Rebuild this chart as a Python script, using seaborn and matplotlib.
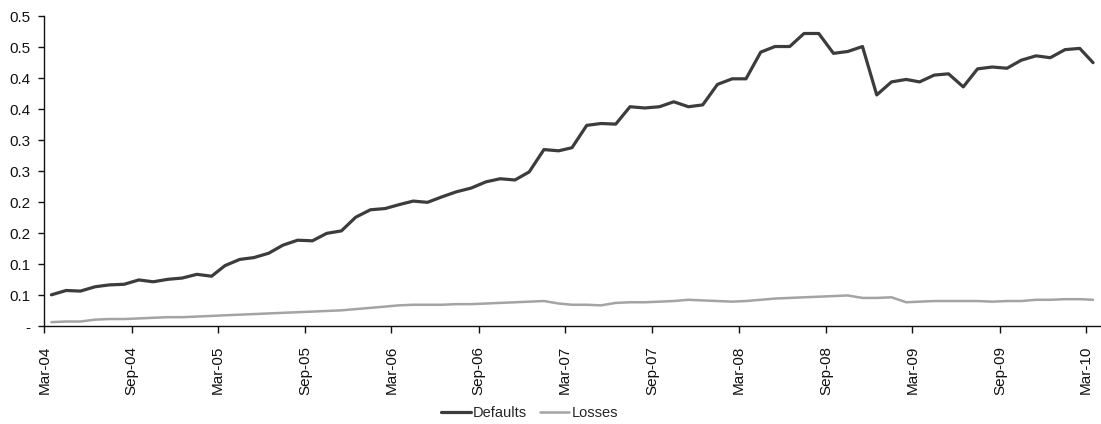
import numpy as np
import pandas as pd
import matplotlib
matplotlib.use("Agg")
import matplotlib.pyplot as plt
import seaborn as sns

# ---- data (monthly, Mar-04 .. Mar-10) ----
start_month = "2004-03-01"
defaults = [0.051, 0.058, 0.057, 0.064, 0.067, 0.068, 0.075, 0.072, 0.076, 0.078,
            0.084, 0.081, 0.098, 0.108, 0.111, 0.118, 0.131, 0.139, 0.138, 0.150,
            0.154, 0.176, 0.188, 0.190, 0.196, 0.202, 0.200, 0.209, 0.217, 0.223,
            0.233, 0.238, 0.236, 0.249, 0.285, 0.283, 0.288, 0.324, 0.327, 0.326,
            0.354, 0.352, 0.354, 0.362, 0.354, 0.357, 0.390, 0.399, 0.399, 0.442,
            0.451, 0.451, 0.472, 0.472, 0.440, 0.443, 0.451, 0.373, 0.394, 0.398,
            0.394, 0.405, 0.407, 0.386, 0.415, 0.418, 0.416, 0.429, 0.436, 0.433,
            0.446, 0.448, 0.425]
losses = [0.007, 0.008, 0.008, 0.011, 0.012, 0.012, 0.013, 0.014, 0.015, 0.015,
          0.016, 0.017, 0.018, 0.019, 0.020, 0.021, 0.022, 0.023, 0.024, 0.025,
          0.026, 0.028, 0.030, 0.032, 0.034, 0.035, 0.035, 0.035, 0.036, 0.036,
          0.037, 0.038, 0.039, 0.040, 0.041, 0.037, 0.035, 0.035, 0.034, 0.038,
          0.039, 0.039, 0.040, 0.041, 0.043, 0.042, 0.041, 0.040, 0.041, 0.043,
          0.045, 0.046, 0.047, 0.048, 0.049, 0.050, 0.046, 0.046, 0.047, 0.039,
          0.040, 0.041, 0.041, 0.041, 0.041, 0.040, 0.041, 0.041, 0.043, 0.043,
          0.044, 0.044, 0.043]
series_names = ["Defaults", "Losses"]
y_ticks = [0.0, 0.05, 0.10, 0.15, 0.20, 0.25, 0.30, 0.35, 0.40, 0.45, 0.50]
y_tick_labels = ["-", "0.1", "0.1", "0.2", "0.2", "0.3", "0.3", "0.4", "0.4", "0.5", "0.5"]
x_tick_labels = ["Mar-04", "Sep-04", "Mar-05", "Sep-05", "Mar-06", "Sep-06", "Mar-07",
                 "Sep-07", "Mar-08", "Sep-08", "Mar-09", "Sep-09", "Mar-10"]

# ---- frame ----
month_starts = pd.date_range(start_month, periods=len(defaults), freq="MS")
mid_month = month_starts + pd.Timedelta(days=15)   # points centred in each month
df = pd.DataFrame({
    "date": np.concatenate([mid_month, mid_month]),
    "value": defaults + losses,
    "series": [series_names[0]] * len(defaults) + [series_names[1]] * len(losses),
})

sns.set_style("white")
plt.rcParams["font.family"] = ["Liberation Sans", "DejaVu Sans"]

fig = plt.figure(figsize=(11.01, 4.24), dpi=100)
ax = fig.add_axes([0.0402, 0.23, 0.9595, 0.732])

colors = {"Defaults": "#3c3c3c", "Losses": "#a4a4a4"}
widths = {"Defaults": 2.3, "Losses": 1.8}
for name in series_names:
    sns.lineplot(data=df[df["series"] == name], x="date", y="value", ax=ax,
                 color=colors[name], linewidth=widths[name], label=name)

ax.set_xlim(pd.Timestamp(start_month), month_starts[-1] + pd.offsets.MonthBegin(1))
ax.set_ylim(0, 0.5)
ax.set_yticks(y_ticks)
ax.set_yticklabels(y_tick_labels)
tick_dates = pd.date_range(start_month, periods=len(x_tick_labels), freq="6MS")
ax.set_xticks(tick_dates)
ax.set_xticklabels(x_tick_labels, rotation=90)
ax.set_xlabel("")
ax.set_ylabel("")

for s in ["top", "right"]:
    ax.spines[s].set_visible(False)
for s in ["left", "bottom"]:
    ax.spines[s].set_color("#111111")
    ax.spines[s].set_linewidth(1.0)
ax.tick_params(axis="y", which="both", direction="out", length=4, width=1,
               color="#111111", labelsize=11, pad=6, left=True)
ax.tick_params(axis="x", which="both", direction="out", length=5, width=1,
               color="#111111", labelsize=11, pad=9, bottom=True)
for lbl in ax.get_yticklabels() + ax.get_xticklabels():
    lbl.set_color("#111111")

ax.get_legend().remove()
handles, labels = ax.get_legend_handles_labels()
fig.legend(handles, labels, loc="center", bbox_to_anchor=(0.481, 0.026), ncol=2,
           frameon=False, fontsize=10.5, handlelength=2.0, handletextpad=0.15,
           columnspacing=0.9)

fig.savefig("out.png", dpi=100)
